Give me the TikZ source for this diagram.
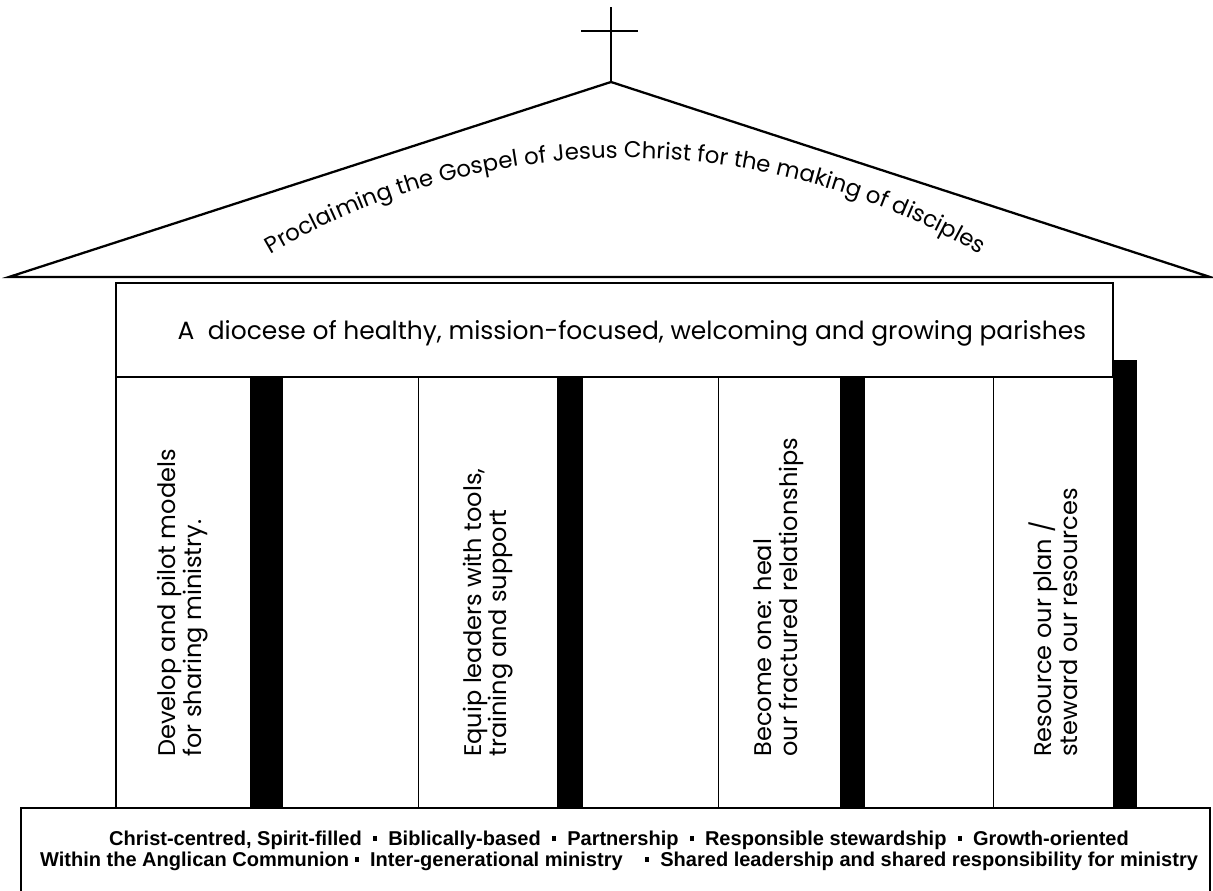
\documentclass[tikz,border=0pt]{standalone}
\usepackage{fontspec}
\usetikzlibrary{decorations.text}

\newcommand{\unitpx}{0.02cm}
\newfontfamily\gothic{Poppins}
\newfontfamily\valuesfont{Liberation Sans}
\newcommand{\dotsep}{\ \ \rule[0.25em]{2.4pt}{2.4pt}\ \ }

\tikzset{
  pillar/.style = {rotate = 90, anchor = west, align = left, inner sep = 0pt,
    font = \gothic\fontsize{13.7}{14.7}\selectfont},
  bar/.style = {fill = black, draw = none}
}

\begin{document}
\begin{tikzpicture}[x = \unitpx, y = \unitpx, line join = miter]
\useasboundingbox (0,0) rectangle (1213,891);

% cross and roof
\draw [line width = 1.5pt] (611,809) -- (611,884);
\draw [line width = 1.5pt] (581,860) -- (638,860);
\draw [line width = 1.3pt] (9,614) -- (611,809) -- (1210,614) -- cycle;
\path [decorate, decoration = {text along path, text align = center,
  text = {|\gothic\fontsize{13}{16}\selectfont|Proclaiming the Gospel of Jesus Christ for the making of disciples}}]
  (258,629) arc [start angle = 121.65, end angle = 58.35, radius = 13.99cm];

% vision banner
\draw [line width = 0.9pt] (116,514) rectangle (1113,608);
\node (vision) at (632,558) {\gothic\fontsize{14.2}{17}\selectfont A\ \ diocese of healthy, mission-focused, welcoming and growing parishes};

% pillars
\draw [line width = 0.9pt] (116,83) -- (116,514);
\foreach \x in {418,718,993}
  \draw [line width = 0.5pt] (\x,83) -- (\x,514);
\foreach \xa/\xb in {250/283, 557/583, 840/865}
  \path [bar] (\xa,83) rectangle (\xb,514);
\path [bar] (1113,83) rectangle (1137,531);

\node (goal1) [pillar] at (183,134) {Develop and pilot models\\for sharing ministry.};
\node (goal2) [pillar] at (488,134) {Equip leaders with tools,\\training and support};
\node (goal3) [pillar] at (779,134) {Become one: heal\\our fractured relationships};
\node (goal4) [pillar] at (1053,134) {Resource our plan /\\steward our resources};

% values base
\draw [line width = 1.3pt] (21,-10) rectangle (1210,83);
\node (values) [align = center, font = \valuesfont\bfseries\fontsize{11.4}{11.9}\selectfont] at (619,40)
  {Christ-centred, Spirit-filled\dotsep Biblically-based\dotsep Partnership\dotsep Responsible stewardship\dotsep Growth-oriented\\
   Within the Anglican Communion \rule[0.25em]{2.4pt}{2.4pt}\ \ Inter-generational ministry\ \ \dotsep Shared leadership and shared responsibility for ministry};
\end{tikzpicture}
\end{document}
